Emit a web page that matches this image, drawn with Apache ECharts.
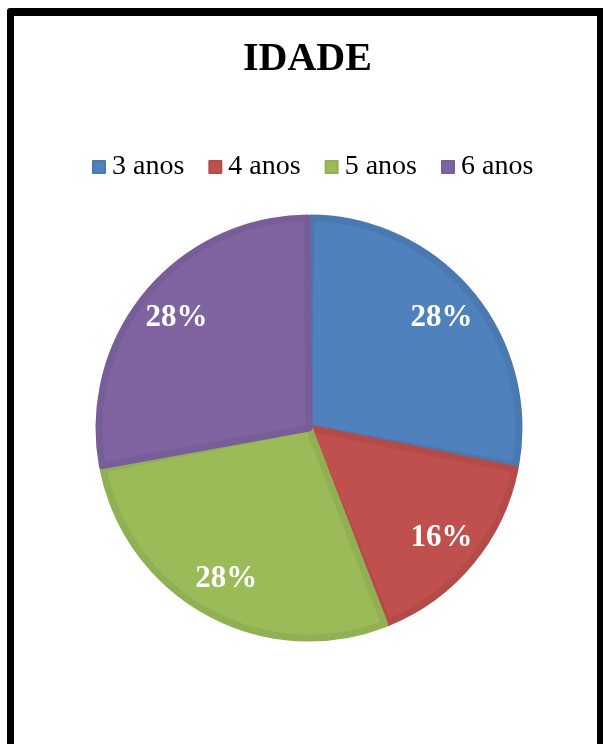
<!DOCTYPE html>
<html>
<head>
<meta charset="utf-8">
<script src="https://cdn.jsdelivr.net/npm/echarts@6/dist/echarts.min.js"></script>
<style>
  html, body { margin: 0; padding: 0; width: 603px; height: 744px; overflow: hidden; background: #fff; }
  #frame {
    position: absolute; left: 7px; top: 8px; width: 583px; height: 800px;
    border: 7px solid #000; border-top-width: 8px; border-top-left-radius: 3px;
  }
  #chart { position: absolute; left: 0; top: 0; width: 603px; height: 744px; }
</style>
</head>
<body>
<div id="frame"></div>
<div id="chart"></div>
<script>
// dados
const categorias = ['3 anos', '4 anos', '5 anos', '6 anos'];
const valores = [28, 16, 28, 28];
const cores = ['#4F81BD', '#C0504D', '#9BBB59', '#8064A2'];
const coresBorda = ['#4A78B0', '#B54B48', '#91B053', '#785E98'];

const serif = '"Liberation Serif", "Times New Roman", serif';

const chart = echarts.init(document.getElementById('chart'));

const dados = categorias.map((nome, i) => ({
    name: nome,
    value: valores[i],
    itemStyle: { color: cores[i], borderColor: coresBorda[i] }
}));

chart.setOption({
    animation: false,
    title: {
        text: 'IDADE',
        left: 238,
        top: 35,
        textStyle: { fontFamily: serif, fontSize: 40, fontWeight: 'bold', color: '#000' }
    },
    legend: {
        data: categorias,
        top: 148,
        left: 87,
        icon: 'rect',
        itemWidth: 12,
        itemHeight: 12,
        itemGap: 24,
        selectedMode: false,
        textStyle: { fontFamily: serif, fontSize: 28, color: '#000', padding: [0, 0, 0, 2] }
    },
    series: [
        {
            type: 'pie',
            center: [309, 428],
            radius: 210,
            startAngle: 90,
            clockwise: true,
            padAngle: 1,
            silent: true,
            itemStyle: { borderWidth: 7 },
            label: { show: false },
            labelLine: { show: false },
            data: dados
        },
        {
            // série transparente só para posicionar os rótulos
            type: 'pie',
            center: [309, 428],
            radius: [129, 209],
            startAngle: 90,
            clockwise: true,
            silent: true,
            itemStyle: { color: 'transparent', borderWidth: 0 },
            label: {
                show: true,
                position: 'inside',
                formatter: '{d}%',
                fontFamily: serif,
                fontSize: 31,
                fontWeight: 'bold',
                color: '#fff'
            },
            labelLine: { show: false },
            data: categorias.map((nome, i) => ({ name: nome, value: valores[i] }))
        }
    ]
});
</script>
</body>
</html>
